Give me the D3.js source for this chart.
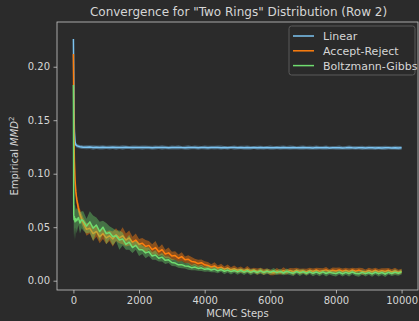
<!DOCTYPE html>
<html>
<head>
<meta charset="utf-8">
<script src="https://cdn.jsdelivr.net/npm/d3@7"></script>
<style>
  html, body { margin: 0; padding: 0; background: #2b2b2b; }
  svg { display: block; font-family: "DejaVu Sans", sans-serif; }
</style>
</head>
<body>
<svg id="chart" width="419" height="321"></svg>
<script>
const steps = [0, 10, 20, 30, 50, 75, 100, 150, 200, 250,
  300, 400, 500, 600, 700, 800, 900, 1000,
  1100, 1200, 1300, 1400, 1500, 1600, 1700, 1800, 1900, 2000,
  2100, 2200, 2300, 2400, 2500, 2600, 2700, 2800, 2900, 3000,
  3100, 3200, 3300, 3400, 3500, 3600, 3700, 3800, 3900, 4000,
  4100, 4200, 4300, 4400, 4500, 4600, 4700, 4800, 4900, 5000,
  5100, 5200, 5300, 5400, 5500, 5600, 5700, 5800, 5900, 6000,
  6100, 6200, 6300, 6400, 6500, 6600, 6700, 6800, 6900, 7000,
  7100, 7200, 7300, 7400, 7500, 7600, 7700, 7800, 7900, 8000,
  8100, 8200, 8300, 8400, 8500, 8600, 8700, 8800, 8900, 9000,
  9100, 9200, 9300, 9400, 9500, 9600, 9700, 9800, 9900, 10000];

const linearMean = [0.226, 0.192, 0.158, 0.140, 0.130, 0.1268, 0.1262, 0.1256, 0.1252, 0.1250,
  0.1248, 0.1247, 0.1249, 0.1246, 0.1247, 0.1245, 0.1247, 0.1246,
  0.1245, 0.1247, 0.1244, 0.1246, 0.1245, 0.1247, 0.1245, 0.1244, 0.1246, 0.1245,
  0.1244, 0.1246, 0.1245, 0.1243, 0.1245, 0.1246, 0.1244, 0.1245, 0.1243, 0.1245,
  0.1244, 0.1246, 0.1244, 0.1243, 0.1245, 0.1244, 0.1246, 0.1243, 0.1244, 0.1245,
  0.1243, 0.1245, 0.1244, 0.1246, 0.1243, 0.1244, 0.1242, 0.1245, 0.1244, 0.1243,
  0.1245, 0.1243, 0.1244, 0.1242, 0.1245, 0.1243, 0.1244, 0.1242, 0.1244, 0.1243,
  0.1242, 0.1244, 0.1243, 0.1245, 0.1242, 0.1243, 0.1244, 0.1242, 0.1243, 0.1244,
  0.1242, 0.1243, 0.1241, 0.1244, 0.1243, 0.1242, 0.1244, 0.1241, 0.1243, 0.1242,
  0.1243, 0.1241, 0.1242, 0.1244, 0.1242, 0.1241, 0.1243, 0.1242, 0.1240, 0.1243,
  0.1242, 0.1241, 0.1243, 0.1240, 0.1242, 0.1243, 0.1241, 0.1242, 0.1240, 0.1242];

const linearSpread = [0.003, 0.003, 0.003, 0.0025, 0.002, 0.002, 0.0018, 0.0018, 0.0017, 0.0018,
  0.0016, 0.0019, 0.0017, 0.0021, 0.0016, 0.0018, 0.0020, 0.0015,
  0.0018, 0.0017, 0.0019, 0.0016, 0.0020, 0.0017, 0.0015, 0.0019, 0.0018, 0.0016,
  0.0020, 0.0017, 0.0016, 0.0019, 0.0018, 0.0015, 0.0021, 0.0017, 0.0016, 0.0018,
  0.0017, 0.0019, 0.0016, 0.0018, 0.0020, 0.0015, 0.0017, 0.0019, 0.0016, 0.0018,
  0.0019, 0.0016, 0.0018, 0.0017, 0.0020, 0.0016, 0.0018, 0.0015, 0.0019, 0.0017,
  0.0016, 0.0018, 0.0020, 0.0017, 0.0015, 0.0019, 0.0017, 0.0018, 0.0016, 0.0020,
  0.0017, 0.0016, 0.0019, 0.0018, 0.0016, 0.0020, 0.0017, 0.0015, 0.0018, 0.0019,
  0.0016, 0.0018, 0.0017, 0.0020, 0.0016, 0.0018, 0.0019, 0.0015, 0.0017, 0.0018,
  0.0020, 0.0016, 0.0017, 0.0019, 0.0016, 0.0018, 0.0017, 0.0020, 0.0016, 0.0018,
  0.0017, 0.0019, 0.0016, 0.0018, 0.0020, 0.0017, 0.0016, 0.0019, 0.0018, 0.0017];

const acceptMean = [0.212, 0.165, 0.130, 0.112, 0.094, 0.083, 0.076, 0.068, 0.062, 0.058,
  0.054, 0.048, 0.049, 0.044, 0.046, 0.041, 0.044, 0.040,
  0.042, 0.039, 0.043, 0.040, 0.042, 0.038, 0.040, 0.036, 0.038, 0.034,
  0.035, 0.032, 0.033, 0.029, 0.031, 0.027, 0.029, 0.025, 0.026, 0.023,
  0.0235, 0.0210, 0.0225, 0.0195, 0.0200, 0.0180, 0.0175, 0.0160, 0.0168, 0.0148,
  0.0142, 0.0128, 0.0138, 0.0118, 0.0127, 0.0108, 0.0120, 0.0102, 0.0112, 0.0098,
  0.0104, 0.0092, 0.0108, 0.0088, 0.0100, 0.0084, 0.0097, 0.0082, 0.0093, 0.0078,
  0.0074, 0.0090, 0.0079, 0.0094, 0.0081, 0.0096, 0.0083, 0.0099, 0.0085, 0.0092,
  0.0082, 0.0097, 0.0086, 0.0100, 0.0087, 0.0094, 0.0101, 0.0086, 0.0098, 0.0090,
  0.0101, 0.0088, 0.0097, 0.0085, 0.0100, 0.0089, 0.0099, 0.0087, 0.0082, 0.0095,
  0.0084, 0.0098, 0.0083, 0.0094, 0.0086, 0.0097, 0.0082, 0.0092, 0.0080, 0.0088];

const acceptSpread = [0.003, 0.004, 0.004, 0.004, 0.004, 0.004, 0.0045, 0.005, 0.005, 0.005,
  0.005, 0.006, 0.005, 0.007, 0.005, 0.006, 0.005, 0.006,
  0.005, 0.007, 0.006, 0.005, 0.008, 0.006, 0.007, 0.005, 0.006, 0.005,
  0.005, 0.006, 0.004, 0.005, 0.006, 0.004, 0.005, 0.004, 0.005, 0.004,
  0.004, 0.0035, 0.0042, 0.003, 0.0038, 0.0042, 0.003, 0.0036, 0.003, 0.0034,
  0.0032, 0.0026, 0.0034, 0.0025, 0.0032, 0.0024, 0.0031, 0.0024, 0.0029, 0.0024,
  0.0028, 0.0022, 0.0030, 0.0024, 0.0022, 0.0029, 0.0023, 0.0028, 0.0022, 0.0027,
  0.0023, 0.0028, 0.0022, 0.0031, 0.0024, 0.0022, 0.0033, 0.0023, 0.0027, 0.0022,
  0.0029, 0.0023, 0.0027, 0.0022, 0.0032, 0.0023, 0.0028, 0.0022, 0.0025, 0.0030,
  0.0022, 0.0027, 0.0023, 0.0030, 0.0022, 0.0027, 0.0023, 0.0031, 0.0022, 0.0025,
  0.0028, 0.0022, 0.0027, 0.0023, 0.0030, 0.0022, 0.0025, 0.0028, 0.0022, 0.0024];

const gibbsMean = [0.183, 0.062, 0.057, 0.060, 0.055, 0.058, 0.056, 0.059, 0.054, 0.057,
  0.056, 0.051, 0.055, 0.049, 0.052, 0.046, 0.050, 0.044,
  0.045, 0.041, 0.042, 0.038, 0.039, 0.034, 0.036, 0.031, 0.033, 0.029,
  0.029, 0.026, 0.027, 0.023, 0.024, 0.021, 0.022, 0.019, 0.0195, 0.017,
  0.0165, 0.0148, 0.0150, 0.0138, 0.0135, 0.0122, 0.0128, 0.0115, 0.0120, 0.0106,
  0.0112, 0.0100, 0.0108, 0.0092, 0.0104, 0.0088, 0.0099, 0.0085, 0.0096, 0.0082,
  0.0095, 0.0080, 0.0093, 0.0078, 0.0090, 0.0077, 0.0092, 0.0076, 0.0088, 0.0079,
  0.0091, 0.0075, 0.0087, 0.0072, 0.0088, 0.0076, 0.0070, 0.0086, 0.0073, 0.0084,
  0.0070, 0.0083, 0.0069, 0.0081, 0.0068, 0.0082, 0.0067, 0.0080, 0.0071, 0.0066,
  0.0079, 0.0065, 0.0078, 0.0068, 0.0081, 0.0067, 0.0064, 0.0078, 0.0066, 0.0077,
  0.0064, 0.0079, 0.0066, 0.0076, 0.0063, 0.0078, 0.0067, 0.0080, 0.0069, 0.0082];

const gibbsSpread = [0.004, 0.012, 0.020, 0.010, 0.016, 0.008, 0.012, 0.007, 0.010, 0.008,
  0.009, 0.007, 0.010, 0.012, 0.007, 0.009, 0.006, 0.010,
  0.006, 0.008, 0.005, 0.009, 0.006, 0.005, 0.007, 0.005, 0.004, 0.006,
  0.004, 0.005, 0.004, 0.0035, 0.0045, 0.003, 0.004, 0.0035, 0.003, 0.0032,
  0.003, 0.0028, 0.0034, 0.0025, 0.0032, 0.0024, 0.0030, 0.0023, 0.0029, 0.0022,
  0.0027, 0.0021, 0.0028, 0.0022, 0.0021, 0.0027, 0.0022, 0.0026, 0.0021, 0.0027,
  0.0022, 0.0026, 0.0021, 0.0028, 0.0022, 0.0021, 0.0027, 0.0022, 0.0026, 0.0021,
  0.0028, 0.0022, 0.0024, 0.0021, 0.0027, 0.0022, 0.0026, 0.0021, 0.0029, 0.0022,
  0.0024, 0.0021, 0.0027, 0.0022, 0.0026, 0.0021, 0.0028, 0.0022, 0.0024, 0.0027,
  0.0021, 0.0026, 0.0022, 0.0028, 0.0021, 0.0024, 0.0027, 0.0021, 0.0026, 0.0022,
  0.0027, 0.0021, 0.0026, 0.0022, 0.0028, 0.0021, 0.0024, 0.0027, 0.0022, 0.0025];

const seriesNames = ["Linear", "Accept-Reject", "Boltzmann-Gibbs"];
const seriesColors = ["#7cc4f2", "#ff7f0e", "#6fdc6f"];
const bandOpacity = [0.35, 0.45, 0.4];
const xTicks = [0, 2000, 4000, 6000, 8000, 10000];
const yTicks = [0.00, 0.05, 0.10, 0.15, 0.20];

const series = [
  {name: seriesNames[0], color: seriesColors[0], alpha: bandOpacity[0], mean: linearMean, spread: linearSpread},
  {name: seriesNames[1], color: seriesColors[1], alpha: bandOpacity[1], mean: acceptMean, spread: acceptSpread},
  {name: seriesNames[2], color: seriesColors[2], alpha: bandOpacity[2], mean: gibbsMean, spread: gibbsSpread}
];

const textColor = "#d6d6d6";
const margin = {top: 22, right: 1, bottom: 31, left: 57};
const width = 419, height = 321;

const svg = d3.select("#chart");
svg.append("rect").attr("width", width).attr("height", height).attr("fill", "#2b2b2b");

const x = d3.scaleLinear().domain([-500, 10500]).range([margin.left, width - margin.right]);
const y = d3.scaleLinear().domain([-0.0087, 0.2418]).range([height - margin.bottom, margin.top]);

svg.append("clipPath").attr("id", "plotclip")
  .append("rect")
  .attr("x", margin.left).attr("y", margin.top)
  .attr("width", width - margin.right - margin.left)
  .attr("height", height - margin.bottom - margin.top);

const plot = svg.append("g").attr("clip-path", "url(#plotclip)");

const area = d3.area()
  .x((d, i) => x(steps[i]))
  .y0(d => y(d[0] - d[1]))
  .y1(d => y(d[0] + d[1]));

const line = d3.line()
  .x((d, i) => x(steps[i]))
  .y(d => y(d));

series.forEach(s => {
  const pairs = s.mean.map((m, i) => [m, s.spread[i]]);
  plot.append("path")
    .datum(pairs)
    .attr("d", area)
    .attr("fill", s.color)
    .attr("fill-opacity", s.alpha);
  plot.append("path")
    .datum(s.mean)
    .attr("d", line)
    .attr("fill", "none")
    .attr("stroke", s.color)
    .attr("stroke-width", 1.5)
    .attr("stroke-linejoin", "round");
});

// axes
const xAxis = svg.append("g")
  .attr("transform", `translate(0,${height - margin.bottom})`)
  .call(d3.axisBottom(x).tickValues(xTicks).tickFormat(d3.format("d")).tickSizeOuter(0).tickSize(3.5).tickPadding(3.5));

const yAxis = svg.append("g")
  .attr("transform", `translate(${margin.left},0)`)
  .call(d3.axisLeft(y).tickValues(yTicks).tickFormat(d3.format(".2f")).tickSizeOuter(0).tickSize(3.5).tickPadding(3.5));

[xAxis, yAxis].forEach(g => {
  g.select(".domain").remove();
  g.selectAll(".tick line").attr("stroke", "#c8c8c8").attr("stroke-width", 0.8);
  g.selectAll(".tick text").attr("fill", textColor).attr("font-size", 10)
    .attr("font-family", "DejaVu Sans, sans-serif");
});

// frame
svg.append("rect")
  .attr("x", margin.left).attr("y", margin.top)
  .attr("width", width - margin.right - margin.left)
  .attr("height", height - margin.bottom - margin.top)
  .attr("fill", "none")
  .attr("stroke", "#c8c8c8")
  .attr("stroke-width", 0.8);

// title and labels
svg.append("text")
  .attr("x", (margin.left + width - margin.right) / 2 + 1)
  .attr("y", 16)
  .attr("text-anchor", "middle")
  .attr("fill", textColor)
  .attr("font-size", 12)
  .text('Convergence for "Two Rings" Distribution (Row 2)');

svg.append("text")
  .attr("x", x(5000))
  .attr("y", 317)
  .attr("text-anchor", "middle")
  .attr("fill", textColor)
  .attr("font-size", 10)
  .text("MCMC Steps");

const yl = svg.append("text")
  .attr("transform", `translate(18,${(margin.top + height - margin.bottom) / 2}) rotate(-90)`)
  .attr("text-anchor", "middle")
  .attr("fill", textColor)
  .attr("font-size", 10);
yl.append("tspan").text("Empirical ");
yl.append("tspan").attr("font-style", "italic").text("MMD");
yl.append("tspan").attr("font-size", 7).attr("dy", -4).text("2");

// legend
const lg = svg.append("g").attr("transform", "translate(289,26)");
lg.append("rect")
  .attr("width", 126).attr("height", 49)
  .attr("rx", 2.5)
  .attr("fill", "#2b2b2b").attr("fill-opacity", 0.8)
  .attr("stroke", "#5a5a5a").attr("stroke-width", 1);
series.forEach((s, i) => {
  const row = lg.append("g").attr("transform", `translate(0,${10 + i * 14.8})`);
  row.append("line")
    .attr("x1", 4).attr("x2", 25)
    .attr("stroke", s.color).attr("stroke-width", 1.5);
  row.append("text")
    .attr("x", 34).attr("y", 4)
    .attr("fill", textColor)
    .attr("font-size", 11)
    .text(s.name);
});
</script>
</body>
</html>
